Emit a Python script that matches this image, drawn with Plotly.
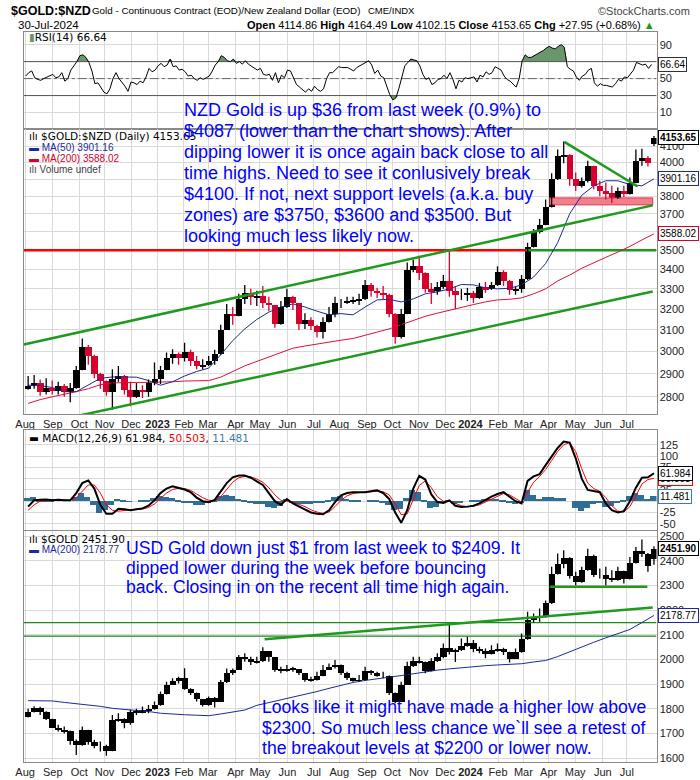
import numpy as np
import pandas as pd
import plotly.graph_objects as go

# ---------------- data (weekly samples) ----------------
week_start = "2022-08-03 12:00"   # mid-week of first weekly sample
n_weeks = 105                     # last sample = week of 29/30-Jul-2024

nzd_close = [2850, 2860, 2820, 2840, 2825, 2850, 2820, 2840, 2920, 3020,
             2980, 2900, 2870, 2820, 2880, 2890, 2830, 2800, 2830, 2820,
             2860, 2880, 2920, 2970, 2990, 2970, 3000, 2960, 2935, 2940,
             2960, 2990, 3100, 3180, 3170, 3250, 3280, 3260, 3265, 3230,
             3220, 3130, 3210, 3260, 3230, 3130, 3150, 3120, 3090, 3140,
             3180, 3230, 3230, 3240, 3245, 3250, 3320, 3290, 3280, 3270,
             3180, 3070, 3180, 3400, 3420, 3380, 3300, 3290, 3310, 3340,
             3290, 3270, 3270, 3280, 3255, 3310, 3300, 3320, 3390, 3340,
             3295, 3300, 3350, 3520, 3600, 3640, 3740, 3900, 4040, 4050,
             3900, 3860, 3890, 3980, 3860, 3830, 3820, 3790, 3830, 3815,
             3880, 4010, 4030, 4000, 4153.65]
nzd_high = [2890, 2895, 2875, 2880, 2870, 2865, 2855, 2860, 2935, 3060,
            3030, 2985, 2905, 2870, 2920, 2935, 2895, 2865, 2860, 2850,
            2875, 2950, 2935, 2995, 3010, 2995, 3040, 3008, 2980, 2965,
            2980, 3008, 3125, 3225, 3210, 3275, 3320, 3300, 3290, 3315,
            3260, 3220, 3240, 3300, 3265, 3230, 3180, 3160, 3125, 3160,
            3210, 3260, 3250, 3260, 3260, 3275, 3345, 3330, 3305, 3315,
            3275, 3180, 3200, 3435, 3450, 3470, 3385, 3330, 3335, 3370,
            3500, 3315, 3300, 3305, 3290, 3330, 3335, 3335, 3415, 3395,
            3345, 3310, 3370, 3540, 3615, 3670, 3780, 3935, 4080, 4130,
            4050, 3940, 3910, 4010, 3980, 3890, 3880, 3860, 3850, 3860,
            3910, 4080, 4085, 4040, 4164.49]
nzd_low = [2830, 2835, 2805, 2810, 2810, 2810, 2800, 2777, 2835, 2915,
           2940, 2880, 2835, 2805, 2745, 2865, 2810, 2760, 2795, 2795,
           2800, 2850, 2855, 2915, 2945, 2940, 2955, 2935, 2920, 2920,
           2935, 2940, 2985, 3100, 3125, 3165, 3225, 3220, 3215, 3205,
           3190, 3110, 3125, 3205, 3195, 3100, 3105, 3100, 3065, 3060,
           3135, 3160, 3205, 3225, 3225, 3220, 3245, 3260, 3255, 3245,
           3160, 3036, 3060, 3175, 3385, 3345, 3280, 3225, 3270, 3300,
           3260, 3200, 3245, 3240, 3230, 3250, 3280, 3295, 3315, 3315,
           3270, 3270, 3280, 3345, 3515, 3590, 3635, 3735, 3895, 3995,
           3860, 3830, 3850, 3880, 3840, 3800, 3780, 3760, 3785, 3795,
           3810, 3875, 3980, 3975, 4102.15]
nzd_first_open = 2835
nzd_last_open = 4114.86

# moving averages, every second week
nzd_ma50 = [2850, 2848, 2840, 2822, 2822, 2850, 2880, 2886, 2886, 2885,
            2870, 2850, 2865, 2890, 2910, 2925, 2985, 3050, 3105, 3150,
            3185, 3210, 3225, 3210, 3190, 3172, 3178, 3172, 3210, 3245,
            3248, 3235, 3250, 3275, 3285, 3300, 3322, 3320, 3305, 3300,
            3303, 3320, 3360, 3430, 3540, 3700, 3805, 3860, 3890, 3890,
            3868, 3860, 3901.16]
nzd_ma200 = [2772, 2788, 2800, 2810, 2822, 2835, 2852, 2860, 2862, 2862,
             2862, 2862, 2865, 2868, 2870, 2870, 2885, 2910, 2935, 2955,
             2975, 2995, 3015, 3025, 3035, 3045, 3052, 3060, 3075, 3090,
             3105, 3125, 3145, 3165, 3180, 3195, 3210, 3222, 3235, 3245,
             3248, 3255, 3275, 3300, 3340, 3370, 3405, 3435, 3462, 3490,
             3520, 3555, 3588.02]

# RSI(14), read twice a week (Mon noon / Thu)
rsi_start = "2022-08-01 12:00"
rsi = [53, 57, 59, 51, 49, 48, 50, 52, 53, 55,
       51, 52, 57, 47, 50, 60, 65, 70, 77, 78,
       75, 69, 59, 44, 45, 39, 34, 32, 38, 50,
       57, 50, 46, 41, 35, 46, 45, 43, 47, 45,
       52, 62, 58, 60, 65, 68, 64, 66, 73, 64,
       65, 60, 61, 58, 53, 54, 50, 48, 51, 49,
       51, 53, 59, 66, 70, 77, 75, 71, 70, 73,
       68, 70, 67, 71, 67, 65, 63, 60, 62, 55,
       54, 55, 48, 57, 45, 54, 51, 60, 59, 50,
       43, 40, 37, 34, 38, 35, 41, 37, 35, 38,
       50, 57, 57, 60, 64, 63, 63, 63, 61, 59,
       63, 65, 67, 69, 71, 66, 56, 60, 53, 51,
       40, 31, 25, 27, 38, 53, 65, 69, 73, 72,
       71, 65, 55, 49, 51, 43, 45, 49, 50, 54,
       50, 57, 49, 38, 48, 46, 51, 50, 51, 52,
       46, 54, 52, 58, 55, 57, 64, 62, 60, 53,
       49, 47, 44, 40, 50, 71, 78, 75, 75, 77,
       79, 80, 83, 86, 88, 86, 85, 88, 90, 87,
       64, 61, 59, 52, 48, 53, 55, 60, 62, 45,
       41, 44, 42, 42, 41, 40, 44, 49, 47, 52,
       51, 55, 60, 69, 67, 66, 67, 62, 66.64]

macd = [-12, 2, 3, 4, 2, 3, 2, 2, 18, 40,
        46, 28, -8, -28, -28, -17, -18, -20, -18, -16,
        -10, 2, 18, 28, 33, 30, 26, 20, 8, 0,
        -2, 3, 22, 40, 53, 57, 57, 52, 44, 36,
        18, 0, -8, 5, -5, -12, -18, -25, -28, -29,
        -20, -2, 13, 18, 20, 20, 20, 22, 24, 18,
        5, -25, -48, -20, 28, 56, 48, 15, -2, -4,
        2, -10, -13, -12, -10, -5, 3, 10, 16, 20,
        10, 0, -5, 45, 55, 60, 80, 100, 118, 132,
        130, 95, 50, 25, 22, 20, -5, -20, -25, -22,
        0, 30, 52, 53, 61.984]
macd_signal = [-20, -8, 0, 2, 3, 3, 2, 2, 8, 22,
               36, 36, 18, -8, -20, -22, -20, -19, -18, -17,
               -14, -6, 6, 18, 26, 29, 28, 24, 16, 8,
               2, 1, 10, 26, 42, 52, 55, 54, 49, 42,
               30, 14, 2, 0, -2, -7, -12, -19, -24, -27,
               -24, -12, 2, 12, 17, 19, 20, 21, 22, 21,
               14, -6, -30, -28, 2, 35, 45, 30, 10, 0,
               0, -5, -10, -12, -11, -8, -2, 5, 11, 17,
               14, 5, -2, 20, 42, 55, 70, 90, 110, 125,
               130, 110, 72, 40, 28, 22, 8, -10, -22, -24,
               -12, 12, 38, 48, 50.503]

usd_close = [1790, 1805, 1790, 1760, 1725, 1715, 1710, 1670, 1655, 1715,
             1665, 1650, 1650, 1630, 1755, 1760, 1745, 1790, 1785, 1795,
             1800, 1815, 1860, 1900, 1915, 1925, 1880, 1865, 1840, 1815,
             1845, 1830, 1910, 1945, 1960, 2010, 2005, 1990, 1995, 2035,
             2010, 1960, 1955, 1965, 1962, 1945, 1920, 1918, 1935, 1960,
             1970, 1980, 1945, 1925, 1915, 1918, 1955, 1945, 1935, 1935,
             1865, 1830, 1900, 1975, 1995, 1990, 1955, 1995, 2010, 2050,
             2030, 2040, 2055, 2070, 2045, 2035, 2025, 2040, 2045, 2030,
             2005, 2030, 2085, 2160, 2170, 2180, 2230, 2350, 2390, 2415,
             2340, 2315, 2365, 2420, 2345, 2345, 2330, 2325, 2360, 2330,
             2395, 2440, 2430, 2380, 2451.90]
usd_high = [1800, 1810, 1808, 1790, 1760, 1735, 1728, 1712, 1675, 1728,
            1715, 1674, 1667, 1654, 1775, 1782, 1762, 1796, 1800, 1809,
            1815, 1830, 1870, 1910, 1924, 1930, 1965, 1883, 1866, 1840,
            1850, 1848, 1917, 1964, 1964, 2018, 2025, 2011, 2011, 2050,
            2035, 2010, 1971, 1978, 1971, 1962, 1945, 1930, 1950, 1978,
            1984, 1998, 1980, 1950, 1926, 1937, 1971, 1957, 1950, 1950,
            1935, 1866, 1910, 1991, 2011, 2011, 1992, 2005, 2025, 2065,
            2146, 2045, 2085, 2092, 2079, 2052, 2045, 2058, 2065, 2048,
            2032, 2045, 2106, 2194, 2187, 2207, 2240, 2376, 2430, 2443,
            2415, 2356, 2376, 2450, 2425, 2369, 2376, 2362, 2376, 2360,
            2416, 2457, 2487, 2432, 2460]
usd_low = [1765, 1785, 1775, 1755, 1722, 1708, 1700, 1654, 1613, 1650,
           1654, 1640, 1627, 1610, 1628, 1748, 1721, 1735, 1775, 1782,
           1782, 1796, 1812, 1858, 1897, 1903, 1877, 1856, 1830, 1809,
           1812, 1805, 1828, 1905, 1937, 1958, 1991, 1978, 1984, 1990,
           1991, 1950, 1944, 1950, 1950, 1937, 1910, 1910, 1915, 1932,
           1958, 1964, 1937, 1917, 1910, 1910, 1915, 1937, 1930, 1924,
           1856, 1823, 1828, 1898, 1970, 1984, 1944, 1952, 1990, 2005,
           2020, 1990, 2035, 2052, 2030, 2025, 2005, 2020, 2032, 2018,
           1988, 2002, 2028, 2080, 2150, 2153, 2170, 2225, 2345, 2370,
           2329, 2300, 2312, 2360, 2335, 2329, 2300, 2315, 2320, 2308,
           2325, 2390, 2416, 2356, 2385]
usd_first_open = 1768
usd_last_open = 2410
usd_ma200 = [1833, 1833, 1832, 1826, 1821, 1815, 1810, 1802, 1798, 1793,
             1789, 1782, 1778, 1776, 1774, 1772, 1779, 1786, 1795, 1814,
             1825, 1836, 1846, 1857, 1870, 1883, 1895, 1907, 1915, 1921,
             1926, 1935, 1942, 1950, 1957, 1962, 1967, 1972, 1975, 1978,
             1980, 1983, 1990, 1996, 2012, 2032, 2052, 2070, 2088, 2105,
             2122, 2150, 2178.77]

# hand-drawn annotation lines (date, price)
x_left, x_right = "2022-07-28 22:00", "2024-08-02 15:00"
nzd_upper_channel = (["2022-07-28 22:00", "2024-07-30 12:00"], [3032, 3747])
nzd_lower_channel = (["2022-07-28 22:00", "2024-07-30 12:00"], [2672, 3287])
nzd_downtrend = (["2024-04-18", "2024-07-12"], [4127, 3856])
nzd_level = 3500
nzd_level_switch = "2024-03-05"
nzd_zone_x = ["2024-04-02", "2024-07-30 12:00"]
nzd_zone_y = [3750, 3790]
usd_levels = [2150, 2095]
usd_slope = (["2023-05-05", "2024-07-30 12:00"], [2082, 2211])
usd_support = (["2024-04-02", "2024-07-24"], [2295, 2295])

month_ticks = ["2022-08-01", "2022-09-01", "2022-10-03", "2022-11-01", "2022-12-01",
               "2023-01-02", "2023-02-01", "2023-03-01", "2023-04-03", "2023-05-01",
               "2023-06-01", "2023-07-03", "2023-08-01", "2023-09-01", "2023-10-02",
               "2023-11-01", "2023-12-01", "2024-01-01", "2024-02-01", "2024-03-01",
               "2024-04-01", "2024-05-01", "2024-06-03", "2024-07-01"]
month_labels = ["Aug", "Sep", "Oct", "Nov", "Dec", "<b>2023</b>", "Feb", "Mar", "Apr", "May",
                "Jun", "Jul", "Aug", "Sep", "Oct", "Nov", "Dec", "<b>2024</b>", "Feb", "Mar",
                "Apr", "May", "Jun", "Jul"]

nzd_note = ["NZD Gold is up $36 from last week (0.9%) to",
            "$4087 (lower than the chart shows). After",
            "dipping lower it is once again back close to all",
            "time highs. Need to see it conlusively break",
            "$4100. If not, next support levels (a.k.a. buy",
            "zones) are $3750, $3600 and $3500. But",
            "looking much less likely now."]
usd_note = ["USD Gold down just $1 from last week to $2409. It",
            "dipped lower during the week before bouncing",
            "back. Closing in on the recent all time high again."]
low_note = ["Looks like it might have made a higher low above",
            "$2300. So much less chance we`ll see a retest of",
            "the breakout levels at $2200 or lower now."]

# ---------------- derived ----------------
weeks = list(pd.date_range(week_start, periods=n_weeks, freq="7D"))
ma_dates = weeks[::2]
rsi_mon = pd.date_range(rsi_start, periods=n_weeks, freq="7D")
rsi_dates = []
for d in rsi_mon:
    rsi_dates += [d, d + pd.Timedelta(hours=60)]
rsi_dates = rsi_dates[:len(rsi)]

nzd_open = [nzd_first_open] + nzd_close[:-2] + [nzd_last_open]
usd_open = [usd_first_open] + usd_close[:-2] + [usd_last_open]
hist = np.array(macd) - np.array(macd_signal)
rsi_arr = np.array(rsi, dtype=float)
WEEK_MS = 7 * 86400000

W, H = 700, 780
def px(x): return x / W
def py(y): return 1 - y / H

SANS = "Arial, Liberation Sans, sans-serif"
DV = "DejaVu Sans, Verdana, sans-serif"
GREEN = "#1e9a1e"
BLUE_TXT = "#0000ff"
RSI_FILL = "#6a966c"
RED_C = "#d8002c"

fig = go.Figure()

def line_tr(x, y, color, width, ax, dash="solid"):
    fig.add_trace(go.Scatter(x=x, y=y, mode="lines", line=dict(color=color, width=width, dash=dash),
                             xaxis="x" + ax, yaxis="y" + ax, showlegend=False, hoverinfo="skip"))

def candles(ax, o, h, l, c, up_col, dn_col):
    o, h, l, c = map(np.asarray, (o, h, l, c))
    up = c >= o
    for mask, col in [(up, up_col), (~up, dn_col)]:
        wx, wy = [], []
        for d, lo, hi in zip(np.array(weeks, dtype=object)[mask], l[mask], h[mask]):
            wx += [d, d, None]
            wy += [lo, hi, None]
        line_tr(wx, wy, col, 1.3, ax)
    lo_b = np.minimum(o, c)
    hi_b = np.maximum(o, c)
    cols = [up_col if u else dn_col for u in up]
    fig.add_trace(go.Bar(x=weeks, y=hi_b - lo_b, base=lo_b, width=[WEEK_MS * 0.75] * len(weeks),
                         marker=dict(color=cols, line=dict(width=0)),
                         xaxis="x" + ax, yaxis="y" + ax, showlegend=False, hoverinfo="skip"))

# ---- RSI panel ----
fig.add_trace(go.Scatter(x=rsi_dates, y=[70] * len(rsi), mode="lines", line=dict(width=0),
                         xaxis="x", yaxis="y", showlegend=False, hoverinfo="skip"))
fig.add_trace(go.Scatter(x=rsi_dates, y=np.maximum(rsi_arr, 70), mode="lines", line=dict(width=0),
                         fill="tonexty", fillcolor=RSI_FILL, xaxis="x", yaxis="y",
                         showlegend=False, hoverinfo="skip"))
fig.add_trace(go.Scatter(x=rsi_dates, y=[30] * len(rsi), mode="lines", line=dict(width=0),
                         xaxis="x", yaxis="y", showlegend=False, hoverinfo="skip"))
fig.add_trace(go.Scatter(x=rsi_dates, y=np.minimum(rsi_arr, 30), mode="lines", line=dict(width=0),
                         fill="tonexty", fillcolor=RSI_FILL, xaxis="x", yaxis="y",
                         showlegend=False, hoverinfo="skip"))
line_tr([x_left, x_right], [70, 70], "#555", 1, "")
line_tr([x_left, x_right], [30, 30], "#555", 1, "")
line_tr([x_left, x_right], [50, 50], "#666", 1, "", dash="dashdot")
line_tr(rsi_dates, rsi, "black", 1, "")

# ---- main NZD panel ----
line_tr([x_left, nzd_level_switch], [nzd_level, nzd_level], "#ff0000", 2.5, "2")
line_tr([nzd_level_switch, x_right], [nzd_level, nzd_level], GREEN, 2.5, "2")
zx = [nzd_zone_x[0], nzd_zone_x[1], nzd_zone_x[1], nzd_zone_x[0], nzd_zone_x[0]]
zy = [nzd_zone_y[0], nzd_zone_y[0], nzd_zone_y[1], nzd_zone_y[1], nzd_zone_y[0]]
fig.add_trace(go.Scatter(x=zx, y=zy, mode="lines", fill="toself", fillcolor="#f0808c",
                         line=dict(color="#e0304a", width=1), xaxis="x2", yaxis="y2",
                         showlegend=False, hoverinfo="skip"))
line_tr(ma_dates, nzd_ma200, "#e0103a", 1, "2")
line_tr(ma_dates, nzd_ma50, "#1a2a9c", 1, "2")
candles("2", nzd_open, nzd_high, nzd_low, nzd_close, "black", RED_C)
for ln in [nzd_upper_channel, nzd_lower_channel, nzd_downtrend]:
    line_tr(ln[0], ln[1], GREEN, 2.5, "2")

# ---- MACD panel ----
fig.add_trace(go.Bar(x=weeks, y=hist, width=[WEEK_MS] * len(weeks),
                     marker=dict(color="#2f6e98", line=dict(width=0)),
                     xaxis="x3", yaxis="y3", showlegend=False, hoverinfo="skip"))
line_tr(weeks, macd_signal, "#ff0000", 1, "3")
line_tr(weeks, macd, "black", 2, "3")

# ---- USD panel ----
for lvl in usd_levels:
    line_tr([x_left, x_right], [lvl, lvl], "#1a8a1a", 1.2, "4")
line_tr(ma_dates, usd_ma200, "#1a2a9c", 1, "4")
candles("4", usd_open, usd_high, usd_low, usd_close, "black", "black")
for ln in [usd_slope, usd_support]:
    line_tr(ln[0], ln[1], GREEN, 2.5, "4")

# ---------------- axes ----------------
xrange = [x_left, x_right]
def xax(anchor, labels):
    return dict(domain=[px(16), px(656)], anchor=anchor, type="date", range=xrange,
                rangebreaks=[dict(bounds=["sat", "mon"])], tickmode="array",
                tickvals=month_ticks, ticktext=month_labels, showticklabels=labels,
                tickfont=dict(family=SANS, size=11, color="#222"), ticks="",
                showgrid=True, gridcolor="#dadada", gridwidth=1, showline=True,
                linecolor="#8a8a8a", linewidth=1, mirror=True, zeroline=False,
                rangeslider=dict(visible=False), fixedrange=True)

def yax(anchor, dom, rng, vals, typ="linear", texts=None):
    d = dict(domain=dom, anchor=anchor, side="right", range=rng, type=typ, tickmode="array",
             tickvals=vals, tickfont=dict(family=SANS, size=11, color="#222"), ticks="",
             showgrid=True, gridcolor="#dadada", gridwidth=1, showline=True,
             linecolor="#8a8a8a", linewidth=1, mirror=True, zeroline=False, fixedrange=True)
    if texts is not None:
        d["ticktext"] = texts
    return d

nzd_ticks = list(range(2800, 4200, 100))
nzd_tick_text = ["" if v in (3600, 3900) else str(v) for v in nzd_ticks]
rsi_ticks = [10, 30, 50, 70, 90]
rsi_tick_text = ["10", "30", "50", "", "90"]
macd_ticks = [-50, -25, 0, 25, 50, 75, 100, 125]
macd_tick_text = ["-50", "-25", "", "25", "", "75", "100", "125"]
usd_ticks = list(range(1600, 2600, 100))
fig.update_layout(
    xaxis=xax("y", False),
    xaxis2=xax("y2", True),
    xaxis3=xax("y3", False),
    xaxis4=xax("y4", True),
    yaxis=yax("x", [py(129), py(32)], [-9, 105], rsi_ticks, texts=rsi_tick_text),
    yaxis2=yax("x2", [py(415), py(129)], [np.log10(2728), np.log10(4211)], nzd_ticks, typ="log",
               texts=nzd_tick_text),
    yaxis3=yax("x3", [py(531), py(431)], [-63, 158], macd_ticks, texts=macd_tick_text),
    yaxis4=yax("x4", [py(764), py(532)], [1584, 2523], usd_ticks),
)

# ---------------- text ----------------
ann = []
def txt(x, y, s, size=11, color="black", family=SANS, xanchor="left", yanchor="middle", **kw):
    d = dict(x=px(x), y=py(y), xref="paper", yref="paper", text=s, showarrow=False,
             xanchor=xanchor, yanchor=yanchor, align="left",
             font=dict(size=size, color=color, family=family))
    d.update(kw)
    ann.append(d)

# header
txt(1, 11, "<b>$GOLD:$NZD</b>", size=12.5)
txt(83, 11, "Gold - Continuous Contract (EOD)/New Zealand Dollar (EOD)", size=9.8)
txt(362, 11, "CME/INDX", size=9.5)
txt(692, 11, "©StockCharts.com", size=11, color="#444", xanchor="right")
txt(8, 25, "30-Jul-2024", size=11.5)
txt(656, 25, "<b>Open</b> 4114.86 <b>High</b> 4164.49 <b>Low</b> 4102.15 <b>Close</b> 4153.65 "
             "<b>Chg</b> +27.95 (+0.68%) <span style='color:#1a9a1a'>▲</span>",
    size=11, xanchor="right")

# panel legends
txt(19, 37, "<span style='color:#6a966c'>▮</span>RSI(14) 66.64", size=10.5, family=DV)
txt(19, 136, "ılı $GOLD:$NZD (Daily) 4153.65", size=10.5, family=DV)
txt(19, 148, "<span style='color:#1a2a9c'>▬ MA(50) 3901.16</span>", size=10, family=SANS)
txt(19, 159, "<span style='color:#d8002c'>▬ MA(200) 3588.02</span>", size=10, family=SANS)
txt(19, 170, "<span style='color:#444'>ılı Volume undef</span>", size=10, family=SANS)
txt(19, 439, "▬ MACD(12,26,9) 61.984, <span style='color:#ff0000'>50.503</span>, "
             "<span style='color:#3a7cad'>11.481</span>", size=10.5, family=DV)
txt(19, 540, "ılı $GOLD 2451.90", size=10.5, family=DV)
txt(19, 551, "<span style='color:#1a2a9c'>▬ MA(200) 2178.77</span>", size=10, family=SANS)

# notes
for i, s in enumerate(nzd_note):
    txt(176, 110 + 21.1 * i, s, size=18, color=BLUE_TXT)
for i, s in enumerate(usd_note):
    txt(117, 549 + 20 * i, s, size=17.6, color=BLUE_TXT)
for i, s in enumerate(low_note):
    txt(255, 709 + 20.4 * i, s, size=17.6, color=BLUE_TXT)

# right-side value boxes (positioned through the axes)
def vbox(axis, yv, s, col, bold=False):
    ann.append(dict(x=px(658), xref="paper", y=yv, yref=axis,
                    text=("<b>%s</b>" % s) if bold else s, showarrow=False, xanchor="left",
                    yanchor="middle", bgcolor="white", bordercolor=col, borderwidth=1, borderpad=1,
                    font=dict(size=10, color="black", family=SANS)))

vbox("y", 66.64, "66.64", "#333")
vbox("y2", np.log10(3588.02), "3588.02", RED_C)
vbox("y2", np.log10(3901.16), "3901.16", "#1a2a9c")
vbox("y2", np.log10(4153.65), "4153.65", "black", bold=True)
vbox("y3", 11.481, "11.481", "#3a7cad")
vbox("y3", 50.503, "50.503", "#ff0000")
vbox("y3", 61.984, "61.984", "black")
vbox("y4", 2178.77, "2178.77", "#1a2a9c")
vbox("y4", 2451.90, "2451.90", "black", bold=True)

fig.update_layout(
    width=W, height=H, margin=dict(l=0, r=0, t=0, b=0),
    paper_bgcolor="white", plot_bgcolor="white",
    showlegend=False, hovermode=False, bargap=0, barmode="overlay",
    annotations=ann,
    font=dict(family=SANS, size=11, color="black"),
)

fig.write_html("out.html", config={"displayModeBar": False})
